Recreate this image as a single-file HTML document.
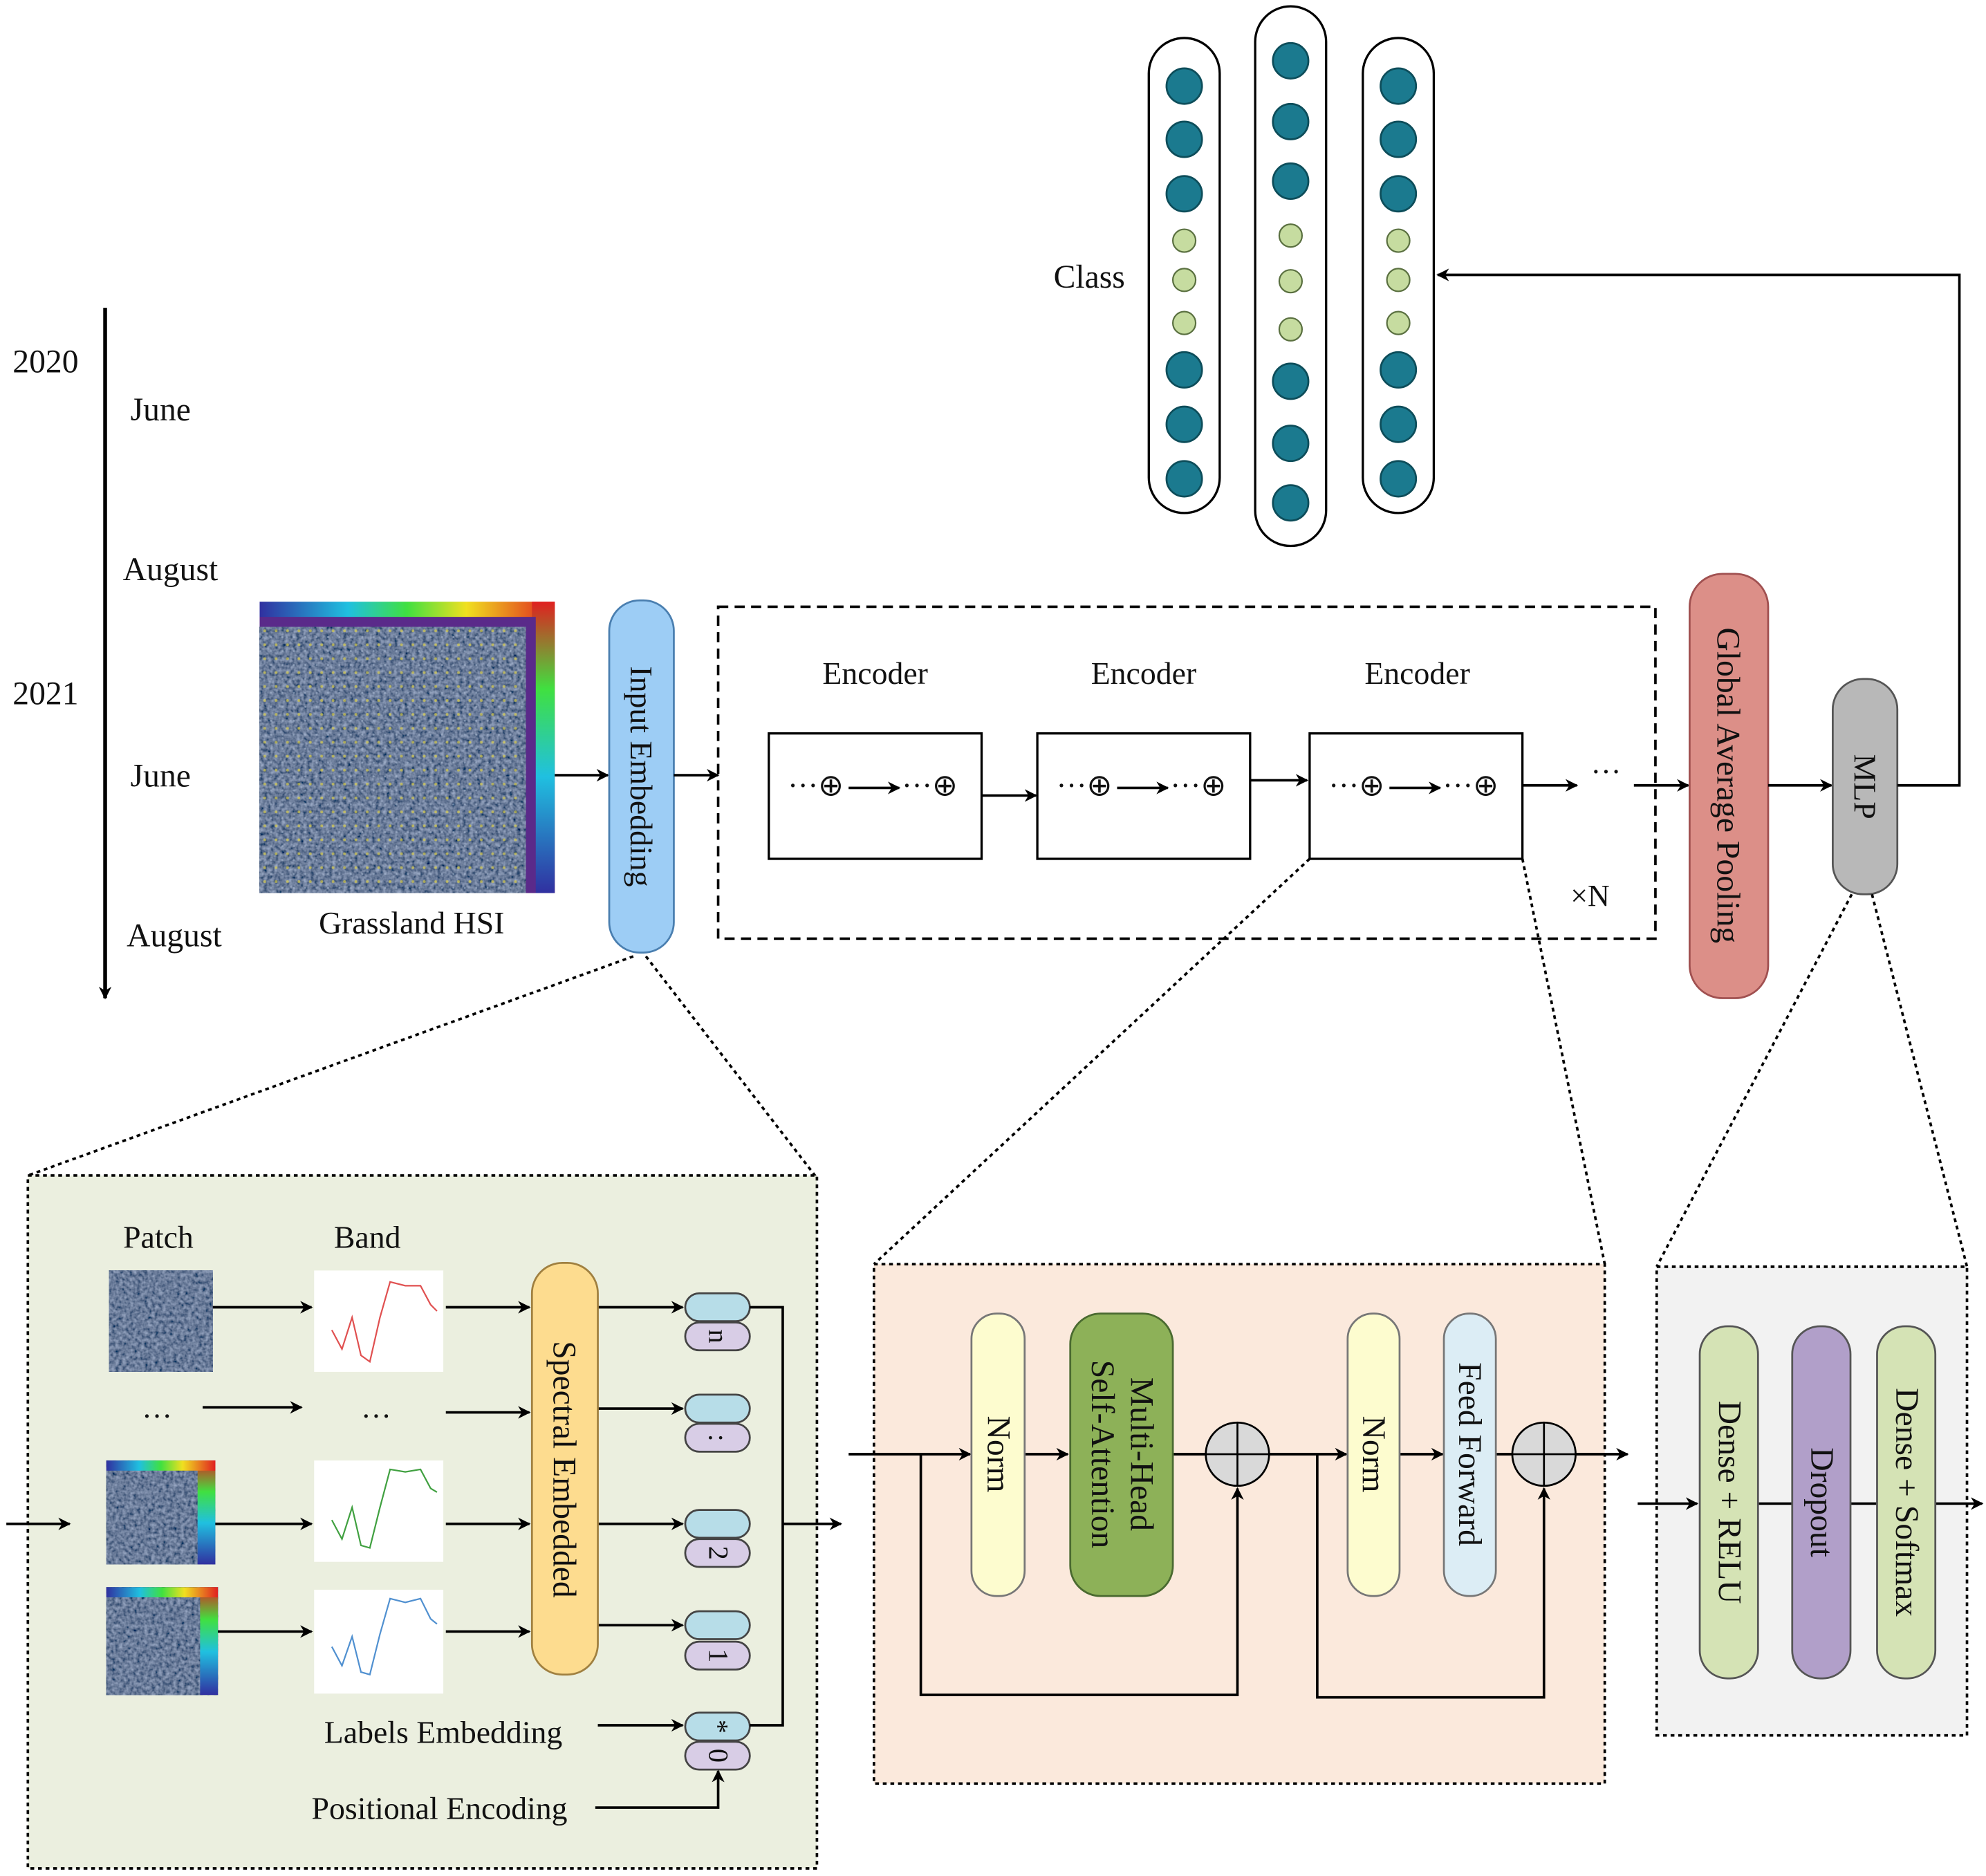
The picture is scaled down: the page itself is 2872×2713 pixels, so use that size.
<!DOCTYPE html>
<html><head><meta charset="utf-8"><style>
html,body{margin:0;padding:0;background:#fff}
svg{display:block}
text{font-family:"Liberation Serif",serif;fill:#111}
</style></head><body>
<svg width="2872" height="2713" viewBox="0 0 1568 1481" preserveAspectRatio="none" xmlns="http://www.w3.org/2000/svg">
<defs>
<marker id="ah" markerWidth="10" markerHeight="10" refX="9" refY="5" orient="auto" markerUnits="userSpaceOnUse"><path d="M0,0 L10,5 L0,10 L3,5 z" fill="#000"/></marker>
<filter id="noise" x="0" y="0" width="100%" height="100%"><feTurbulence type="fractalNoise" baseFrequency="0.35" numOctaves="2" seed="3"/><feColorMatrix values="0.45 0 0 0 -0.08  0.5 0 0 0 -0.05  0.6 0 0 0 0.02  0 0 0 0 1"/></filter>
<linearGradient id="rb" x1="0" y1="0" x2="1" y2="0"><stop offset="0" stop-color="#3030a0"/><stop offset="0.3" stop-color="#20c0e0"/><stop offset="0.5" stop-color="#40e040"/><stop offset="0.7" stop-color="#f0e020"/><stop offset="1" stop-color="#e02020"/></linearGradient>
<linearGradient id="rbv" x1="0" y1="0" x2="0" y2="1"><stop offset="0" stop-color="#e02020"/><stop offset="0.3" stop-color="#40e040"/><stop offset="0.6" stop-color="#20c0e0"/><stop offset="1" stop-color="#3030a0"/></linearGradient>
<pattern id="dots" width="9" height="11" patternUnits="userSpaceOnUse"><circle cx="2" cy="3" r="1.1" fill="#e8d840"/><circle cx="7" cy="8" r="0.8" fill="#a8b8d0"/></pattern>
</defs>

<line x1="83" y1="243" x2="83" y2="788" stroke="#000" stroke-width="3" marker-end="url(#ah)"/>
<g font-size="26">
<text x="10" y="294">2020</text><text x="103" y="332">June</text><text x="97" y="458">August</text>
<text x="10" y="556">2021</text><text x="103" y="621">June</text><text x="100" y="747">August</text>
</g>

<rect x="205" y="475" width="233" height="230" fill="url(#rb)"/>
<rect x="420" y="475" width="18" height="230" fill="url(#rbv)"/>
<rect x="205" y="487" width="218" height="218" fill="#5a2a8a"/>
<rect x="205" y="495" width="210" height="210" fill="#2a3545" filter="url(#noise)"/>
<rect x="205" y="495" width="210" height="210" fill="url(#dots)" opacity="0.6"/>
<text x="325" y="737" font-size="25" text-anchor="middle">Grassland HSI</text>
<line x1="438" y1="612" x2="480" y2="612" stroke="#000" stroke-width="2" marker-end="url(#ah)"/>

<rect x="481" y="474" width="51" height="278" rx="24" fill="#9dcdf5" stroke="#4a7fb0" stroke-width="1.5"/>
<text transform="translate(498,613) rotate(90)" font-size="25" text-anchor="middle">Input Embedding</text>
<line x1="532" y1="612" x2="567" y2="612" stroke="#000" stroke-width="2" marker-end="url(#ah)"/>

<rect x="567" y="479" width="740" height="262" fill="none" stroke="#000" stroke-width="2" stroke-dasharray="8,5"/>
<g font-size="25" text-anchor="middle"><text x="691" y="540">Encoder</text><text x="903" y="540">Encoder</text><text x="1119" y="540">Encoder</text></g>
<g stroke="#000" stroke-width="1.8" fill="#fff">
<rect x="607" y="579" width="168" height="99"/><rect x="819" y="579" width="168" height="99"/><rect x="1034" y="579" width="168" height="99"/>
</g>
<g font-size="24">
<text x="622" y="628">···⊕</text><text x="712" y="628">···⊕</text>
<text x="834" y="628">···⊕</text><text x="924" y="628">···⊕</text>
<text x="1049" y="628">···⊕</text><text x="1139" y="628">···⊕</text>
</g>
<g stroke="#000" stroke-width="2">
<line x1="670" y1="622" x2="710" y2="622" marker-end="url(#ah)"/>
<line x1="882" y1="622" x2="922" y2="622" marker-end="url(#ah)"/>
<line x1="1097" y1="622" x2="1137" y2="622" marker-end="url(#ah)"/>
<line x1="775" y1="628" x2="818" y2="628" marker-end="url(#ah)"/>
<line x1="987" y1="616" x2="1032" y2="616" marker-end="url(#ah)"/>
<line x1="1202" y1="620" x2="1245" y2="620" marker-end="url(#ah)"/>
<line x1="1290" y1="620" x2="1333" y2="620" marker-end="url(#ah)"/>
</g>
<text x="1256" y="617" font-size="24">···</text>
<text x="1240" y="715" font-size="24">×N</text>

<rect x="1334" y="453" width="62" height="335" rx="26" fill="#dc8f88" stroke="#a05050" stroke-width="1.5"/>
<text transform="translate(1356,620) rotate(90)" font-size="26" text-anchor="middle">Global Average Pooling</text>
<line x1="1396" y1="620" x2="1446" y2="620" stroke="#000" stroke-width="2" marker-end="url(#ah)"/>
<rect x="1447" y="536" width="51" height="170" rx="24" fill="#b8b8b8" stroke="#555" stroke-width="1.5"/>
<text transform="translate(1464,621) rotate(90)" font-size="25" text-anchor="middle">MLP</text>
<polyline points="1498,620 1547,620 1547,217 1135,217" fill="none" stroke="#000" stroke-width="2" marker-end="url(#ah)"/>

<g stroke="#000" stroke-width="1.8" fill="#fff">
<rect x="907" y="30" width="56" height="375" rx="28"/><rect x="991" y="5" width="56" height="426" rx="28"/><rect x="1076" y="30" width="56" height="375" rx="28"/>
</g>
<g fill="#1b7a8f" stroke="#0d4d5a" stroke-width="1.5">
<circle cx="935" cy="68" r="14"/><circle cx="935" cy="110" r="14"/><circle cx="935" cy="153" r="14"/>
<circle cx="935" cy="292" r="14"/><circle cx="935" cy="335" r="14"/><circle cx="935" cy="378" r="14"/>
<circle cx="1019" cy="48" r="14"/><circle cx="1019" cy="96" r="14"/><circle cx="1019" cy="143" r="14"/>
<circle cx="1019" cy="301" r="14"/><circle cx="1019" cy="350" r="14"/><circle cx="1019" cy="397" r="14"/>
<circle cx="1104" cy="68" r="14"/><circle cx="1104" cy="110" r="14"/><circle cx="1104" cy="153" r="14"/>
<circle cx="1104" cy="292" r="14"/><circle cx="1104" cy="335" r="14"/><circle cx="1104" cy="378" r="14"/>
</g>
<g fill="#c6dca0" stroke="#5a7040" stroke-width="1.2">
<circle cx="935" cy="190" r="9"/><circle cx="935" cy="221" r="9"/><circle cx="935" cy="255" r="9"/>
<circle cx="1019" cy="186" r="9"/><circle cx="1019" cy="222" r="9"/><circle cx="1019" cy="260" r="9"/>
<circle cx="1104" cy="190" r="9"/><circle cx="1104" cy="221" r="9"/><circle cx="1104" cy="255" r="9"/>
</g>
<text x="860" y="227" font-size="26" text-anchor="middle">Class</text>

<g stroke="#000" stroke-width="2" stroke-dasharray="3,3" fill="none">
<line x1="500" y1="755" x2="22" y2="928"/><line x1="510" y1="755" x2="645" y2="930"/>
<line x1="1034" y1="678" x2="690" y2="998"/><line x1="1202" y1="678" x2="1267" y2="998"/>
<line x1="1462" y1="706" x2="1308" y2="1000"/><line x1="1478" y1="706" x2="1553" y2="1000"/>
</g>

<rect x="22" y="928" width="623" height="547" fill="#ebefdf" stroke="#000" stroke-width="2" stroke-dasharray="3,3"/>
<text x="125" y="985" font-size="25" text-anchor="middle">Patch</text>
<text x="290" y="985" font-size="25" text-anchor="middle">Band</text>
<g>
<rect x="86" y="1003" width="82" height="80" fill="#2a3545" filter="url(#noise)"/>
<rect x="84" y="1153" width="86" height="82" fill="#2a3545" filter="url(#noise)"/>
<rect x="156" y="1153" width="14" height="82" fill="url(#rbv)"/>
<rect x="84" y="1153" width="86" height="8" fill="url(#rb)"/>
<rect x="84" y="1253" width="88" height="85" fill="#2a3545" filter="url(#noise)"/>
<rect x="158" y="1253" width="14" height="85" fill="url(#rbv)"/>
<rect x="84" y="1253" width="88" height="8" fill="url(#rb)"/>
</g>
<g fill="#fff">
<rect x="248" y="1003" width="102" height="80"/><rect x="248" y="1153" width="102" height="80"/><rect x="248" y="1255" width="102" height="82"/>
</g>
<g fill="none" stroke-width="1.2">
<polyline stroke="#e05050" points="262,1050 270,1065 278,1040 285,1070 292,1075 300,1040 308,1012 320,1015 332,1015 340,1030 345,1035"/>
<polyline stroke="#40a040" points="262,1200 270,1215 278,1190 285,1220 292,1222 300,1190 308,1160 320,1162 332,1160 340,1175 345,1178"/>
<polyline stroke="#5090d0" points="262,1300 270,1315 278,1292 285,1320 292,1322 300,1290 308,1262 320,1265 332,1262 340,1278 345,1282"/>
</g>
<g font-size="24"><text x="112" y="1126">···</text><text x="285" y="1126">···</text></g>
<g stroke="#444" stroke-width="1.5">
<rect x="541" y="1021" width="51" height="22" rx="11" fill="#b7dde8"/><rect x="541" y="1044" width="51" height="22" rx="11" fill="#d8cde6"/>
<rect x="541" y="1101" width="51" height="22" rx="11" fill="#b7dde8"/><rect x="541" y="1124" width="51" height="22" rx="11" fill="#d8cde6"/>
<rect x="541" y="1192" width="51" height="22" rx="11" fill="#b7dde8"/><rect x="541" y="1215" width="51" height="22" rx="11" fill="#d8cde6"/>
<rect x="541" y="1272" width="51" height="22" rx="11" fill="#b7dde8"/><rect x="541" y="1296" width="51" height="22" rx="11" fill="#d8cde6"/>
<rect x="541" y="1352" width="51" height="22" rx="11" fill="#b7dde8"/><rect x="541" y="1375" width="51" height="22" rx="11" fill="#d8cde6"/>
</g>
<g stroke="#000" stroke-width="2">
<line x1="168" y1="1032" x2="246" y2="1032" marker-end="url(#ah)"/>
<line x1="160" y1="1111" x2="238" y2="1111" marker-end="url(#ah)"/>
<line x1="170" y1="1203" x2="246" y2="1203" marker-end="url(#ah)"/>
<line x1="172" y1="1288" x2="246" y2="1288" marker-end="url(#ah)"/>
<line x1="352" y1="1032" x2="418" y2="1032" marker-end="url(#ah)"/>
<line x1="352" y1="1115" x2="418" y2="1115" marker-end="url(#ah)"/>
<line x1="352" y1="1203" x2="418" y2="1203" marker-end="url(#ah)"/>
<line x1="352" y1="1288" x2="418" y2="1288" marker-end="url(#ah)"/>
<line x1="472" y1="1032" x2="539" y2="1032" marker-end="url(#ah)"/>
<line x1="472" y1="1112" x2="539" y2="1112" marker-end="url(#ah)"/>
<line x1="472" y1="1203" x2="539" y2="1203" marker-end="url(#ah)"/>
<line x1="472" y1="1283" x2="539" y2="1283" marker-end="url(#ah)"/>
<line x1="472" y1="1362" x2="539" y2="1362" marker-end="url(#ah)"/>
<line x1="5" y1="1203" x2="55" y2="1203" marker-end="url(#ah)"/>
<polyline points="592,1032 618,1032 618,1362 592,1362" fill="none"/>
<line x1="618" y1="1203" x2="664" y2="1203" marker-end="url(#ah)"/>
<polyline points="470,1427 567,1427 567,1398" fill="none" marker-end="url(#ah)"/>
</g>
<rect x="420" y="997" width="52" height="325" rx="24" fill="#fddc8f" stroke="#a08040" stroke-width="1.5"/>
<text transform="translate(437,1160) rotate(90)" font-size="26" text-anchor="middle">Spectral Embedded</text>
<g font-size="22" text-anchor="middle">
<text transform="translate(560,1055) rotate(90)">n</text>
<text transform="translate(560,1135) rotate(90)">:</text>
<text transform="translate(560,1226) rotate(90)">2</text>
<text transform="translate(560,1307) rotate(90)">1</text>
<text transform="translate(560,1386) rotate(90)">0</text>
<text transform="translate(560,1363) rotate(90)">*</text>
</g>
<text x="350" y="1376" font-size="25" text-anchor="middle">Labels Embedding</text>
<text x="347" y="1436" font-size="25" text-anchor="middle">Positional Encoding</text>

<rect x="690" y="998" width="577" height="410" fill="#fbe9dc" stroke="#000" stroke-width="2" stroke-dasharray="3,3"/>
<g stroke="#000" stroke-width="2" fill="none">
<line x1="670" y1="1148" x2="766" y2="1148" marker-end="url(#ah)"/>
<line x1="809" y1="1148" x2="843" y2="1148" marker-end="url(#ah)"/>
<line x1="926" y1="1148" x2="952" y2="1148"/>
<polyline points="727,1148 727,1338 977,1338 977,1175" marker-end="url(#ah)"/>
<line x1="1002" y1="1148" x2="1063" y2="1148" marker-end="url(#ah)"/>
<line x1="1105" y1="1148" x2="1139" y2="1148" marker-end="url(#ah)"/>
<line x1="1181" y1="1148" x2="1194" y2="1148"/>
<polyline points="1040,1148 1040,1340 1219,1340 1219,1175" marker-end="url(#ah)"/>
<line x1="1244" y1="1148" x2="1285" y2="1148" marker-end="url(#ah)"/>
</g>
<rect x="767" y="1037" width="42" height="223" rx="20" fill="#fdfccf" stroke="#777" stroke-width="1.5"/>
<text transform="translate(780,1148) rotate(90)" font-size="26" text-anchor="middle">Norm</text>
<rect x="845" y="1037" width="81" height="223" rx="24" fill="#8db158" stroke="#4a6a30" stroke-width="1.5"/>
<text transform="translate(893,1148) rotate(90)" font-size="26" text-anchor="middle">Multi-Head</text>
<text transform="translate(862,1148) rotate(90)" font-size="26" text-anchor="middle">Self-Attention</text>
<g stroke="#000" stroke-width="1.5"><circle cx="977" cy="1148" r="25" fill="#d9d9d9"/><line x1="952" y1="1148" x2="1002" y2="1148"/><line x1="977" y1="1123" x2="977" y2="1173"/>
<circle cx="1219" cy="1148" r="25" fill="#d9d9d9"/><line x1="1194" y1="1148" x2="1244" y2="1148"/><line x1="1219" y1="1123" x2="1219" y2="1173"/></g>
<rect x="1064" y="1037" width="41" height="223" rx="20" fill="#fdfccf" stroke="#777" stroke-width="1.5"/>
<text transform="translate(1076,1148) rotate(90)" font-size="26" text-anchor="middle">Norm</text>
<rect x="1140" y="1037" width="41" height="223" rx="20" fill="#dcedf5" stroke="#777" stroke-width="1.5"/>
<text transform="translate(1152,1148) rotate(90)" font-size="26" text-anchor="middle">Feed Forward</text>

<rect x="1308" y="1000" width="245" height="370" fill="#f2f2f2" stroke="#000" stroke-width="2" stroke-dasharray="3,3"/>
<g stroke="#000" stroke-width="2">
<line x1="1293" y1="1187" x2="1340" y2="1187" marker-end="url(#ah)"/>
<line x1="1388" y1="1187" x2="1415" y2="1187"/>
<line x1="1461" y1="1187" x2="1482" y2="1187"/>
<line x1="1528" y1="1187" x2="1565" y2="1187" marker-end="url(#ah)"/>
</g>
<rect x="1342" y="1047" width="46" height="278" rx="22" fill="#d5e3b5" stroke="#555" stroke-width="1.5"/>
<text transform="translate(1357,1186) rotate(90)" font-size="26" text-anchor="middle">Dense + RELU</text>
<rect x="1415" y="1047" width="46" height="278" rx="22" fill="#b19fc9" stroke="#555" stroke-width="1.5"/>
<text transform="translate(1430,1186) rotate(90)" font-size="26" text-anchor="middle">Dropout</text>
<rect x="1482" y="1047" width="46" height="278" rx="22" fill="#d5e3b5" stroke="#555" stroke-width="1.5"/>
<text transform="translate(1497,1186) rotate(90)" font-size="26" text-anchor="middle">Dense + Softmax</text>
</svg>
</body></html>
